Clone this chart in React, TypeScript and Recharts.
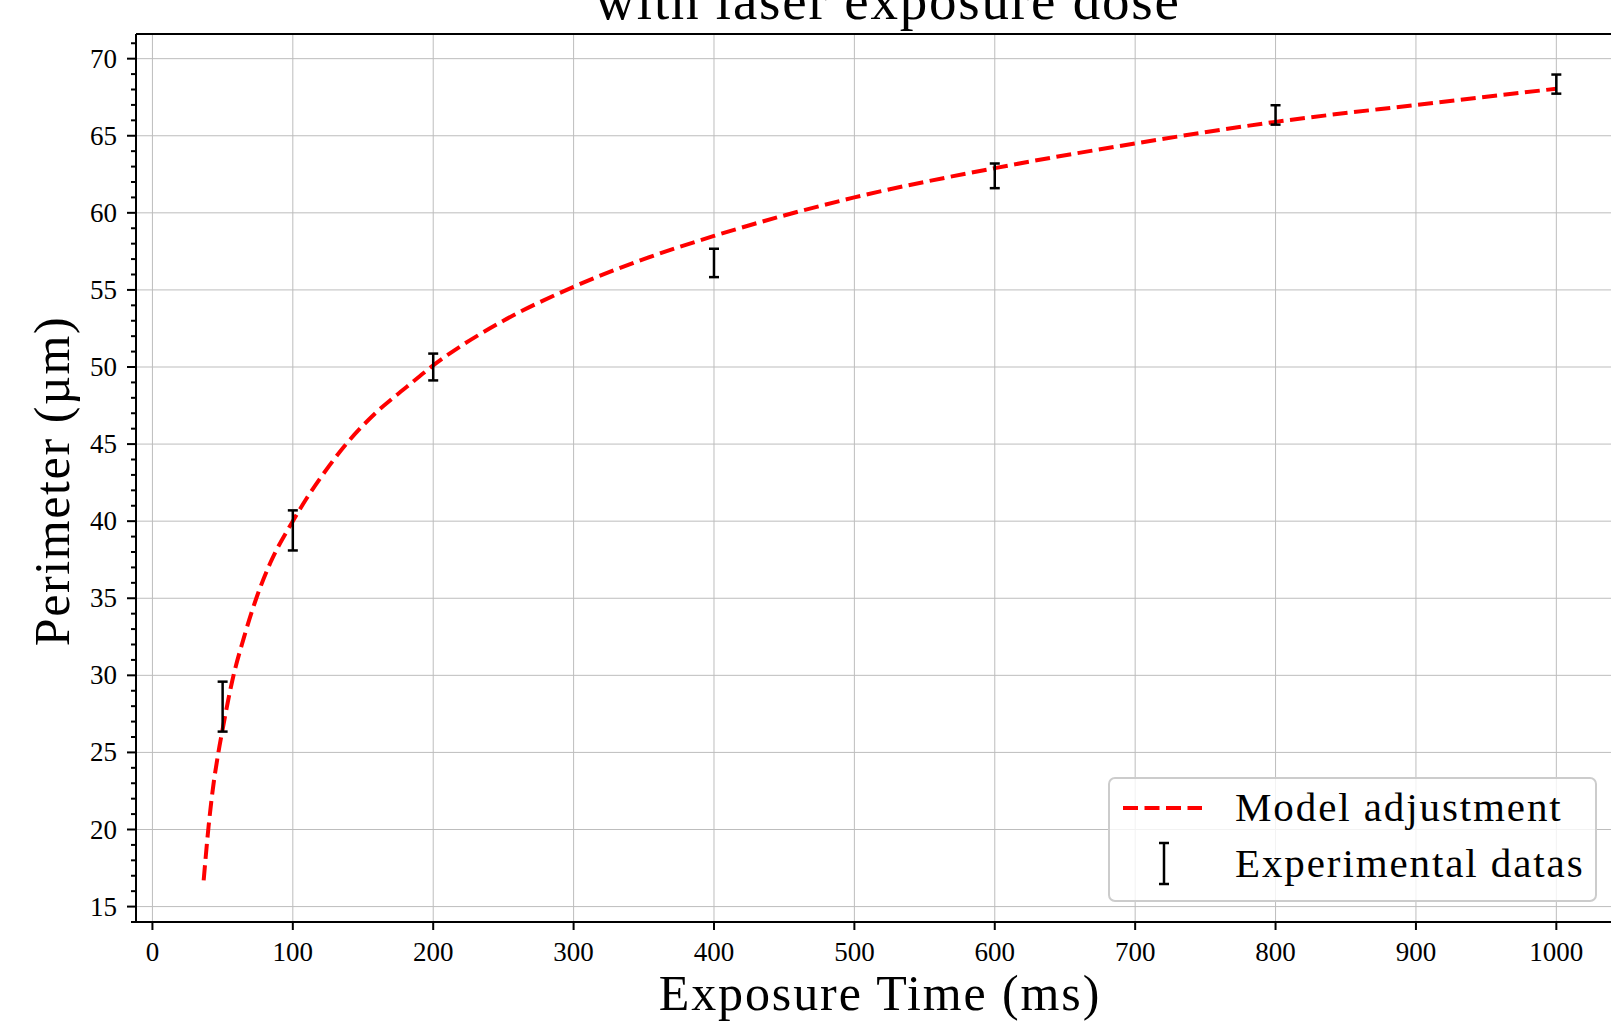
import React from 'react';
import {
  ComposedChart,
  Line,
  Scatter,
  ErrorBar,
  XAxis,
  YAxis,
  CartesianGrid,
  Legend,
  ReferenceLine,
} from 'recharts';

// Model curve (exposure time in ms -> perimeter in µm)
const modelTime = [36.5, 40, 43, 47, 50, 57, 65, 74, 84, 100, 110, 126, 138, 160, 181, 200, 250, 300, 350, 400, 500, 600, 700, 800, 900, 1000];
const modelPerimeter = [16.7, 20.2, 22.6, 25.0, 26.5, 29.7, 32.4, 35.0, 37.3, 40.0, 41.5, 43.6, 45.0, 47.1, 48.7, 50.1, 53.0, 55.2, 57.0, 58.5, 61.0, 62.9, 64.5, 65.9, 67.0, 68.05];

// Experimental points (only error bars are drawn)
const expTime = [50, 100, 200, 400, 600, 800, 1000];
const expPerimeter = [27.97, 39.4, 50.0, 56.75, 62.4, 66.35, 68.35];
const expError = [1.62, 1.3, 0.87, 0.92, 0.8, 0.63, 0.62];

const xTicks = [0, 100, 200, 300, 400, 500, 600, 700, 800, 900, 1000];
const yMajorTicks = [15, 20, 25, 30, 35, 40, 45, 50, 55, 60, 65, 70];
const yMinorTicks = Array.from({ length: 58 }, (_, i) => 14 + i);

const X_DOMAIN: [number, number] = [-11.7, 1048.2];
const Y_DOMAIN: [number, number] = [14.0, 71.6];

const modelData = modelTime.map((t, i) => ({ t, p: modelPerimeter[i] }));
const expData = expTime.map((t, i) => ({ t, p: expPerimeter[i], err: expError[i] }));

const FONT = "'Liberation Serif', 'DejaVu Serif', serif";
const TICK_SIZE = 9;
const TICK_MARGIN = 10;

const YTick = (props: any) => {
  const { x, y, payload } = props;
  const v = payload.value;
  const major = v % 5 === 0;
  const axisX = x + TICK_SIZE + TICK_MARGIN;
  return (
    <g>
      <line x1={axisX} x2={axisX - (major ? TICK_SIZE : 5)} y1={y} y2={y} stroke="#000" strokeWidth={2} />
      {major && (
        <text x={x} y={y} dy={9} textAnchor="end" fontSize={27} fontFamily={FONT} fill="#000">
          {v}
        </text>
      )}
    </g>
  );
};

const LegendBox = () => (
  <svg width={489} height={125} style={{ display: 'block' }}>
    <rect x={1} y={1} width={487} height={123} rx={6} fill="rgba(255,255,255,0.8)" stroke="#cccccc" strokeWidth={2} />
    <line x1={15} x2={94} y1={31} y2={31} stroke="#ff0000" strokeWidth={4} strokeDasharray="15 6.5" />
    <text x={127} y={44} fontSize={41} letterSpacing={1.9} fontFamily={FONT} fill="#000">
      Model adjustment
    </text>
    <line x1={56} x2={56} y1={66} y2={107} stroke="#000" strokeWidth={2.5} />
    <line x1={51} x2={61} y1={66} y2={66} stroke="#000" strokeWidth={2.5} />
    <line x1={51} x2={61} y1={107} y2={107} stroke="#000" strokeWidth={2.5} />
    <text x={127} y={100} fontSize={41} letterSpacing={1.9} fontFamily={FONT} fill="#000">
      Experimental datas
    </text>
  </svg>
);

export default function App() {
  return (
    <div
      style={{
        position: 'fixed',
        left: 0,
        top: 0,
        width: 1611,
        height: 1028,
        overflow: 'hidden',
        background: '#fff',
      }}
    >
      <ComposedChart width={1640} height={1028} margin={{ top: 34, right: 16, bottom: 0, left: 0 }}>
        <CartesianGrid stroke="#bdbdbd" strokeWidth={1} horizontalValues={yMajorTicks} verticalValues={xTicks} />
        <XAxis
          type="number"
          dataKey="t"
          domain={X_DOMAIN}
          allowDataOverflow
          ticks={xTicks}
          interval={0}
          height={106}
          tickSize={8}
          tickMargin={12}
          axisLine={{ stroke: '#000', strokeWidth: 2 }}
          tickLine={{ stroke: '#000', strokeWidth: 2 }}
          tick={{ fill: '#000', fontSize: 27, fontFamily: FONT }}
          label={(p: any) => {
            const vb = p.viewBox;
            return (
              <text
                x={vb.x + vb.width / 2}
                y={vb.y + 88}
                textAnchor="middle"
                fontSize={50}
                letterSpacing={1.9}
                fontFamily={FONT}
                fill="#000"
              >
                Exposure Time (ms)
              </text>
            );
          }}
        />
        <YAxis
          type="number"
          domain={Y_DOMAIN}
          allowDataOverflow
          ticks={yMinorTicks}
          interval={0}
          width={136}
          tickSize={TICK_SIZE}
          tickMargin={TICK_MARGIN}
          axisLine={{ stroke: '#000', strokeWidth: 2 }}
          tickLine={false}
          tick={<YTick />}
          label={(p: any) => {
            const vb = p.viewBox;
            const cy = vb.y + vb.height / 2 + 3;
            return (
              <text
                x={69}
                y={cy}
                transform={`rotate(-90 69 ${cy})`}
                textAnchor="middle"
                fontSize={50}
                letterSpacing={1.6}
                fontFamily={FONT}
                fill="#000"
              >
                Perimeter (µm)
              </text>
            );
          }}
        />
        <ReferenceLine y={Y_DOMAIN[1]} stroke="#000" strokeWidth={2} ifOverflow="visible" />
        <ReferenceLine x={X_DOMAIN[1]} stroke="#000" strokeWidth={2} ifOverflow="visible" />
        <Line
          data={modelData}
          dataKey="p"
          type="monotone"
          stroke="#ff0000"
          strokeWidth={4}
          strokeDasharray="15 6.5"
          dot={false}
          activeDot={false}
          isAnimationActive={false}
        />
        <Scatter data={expData} dataKey="p" shape={() => <g />} isAnimationActive={false}>
          <ErrorBar dataKey="err" direction="y" width={5} stroke="#000" strokeWidth={2.5} isAnimationActive={false} />
        </Scatter>
        <Legend
          layout="horizontal"
          verticalAlign="middle"
          align="center"
          wrapperStyle={{ left: 1108, top: 777, width: 489, height: 125 }}
          content={() => <LegendBox />}
        />
        <text x={888} y={19} textAnchor="middle" fontSize={55} letterSpacing={1.8} fontFamily={FONT} fill="#000">
          with laser exposure dose
        </text>
      </ComposedChart>
    </div>
  );
}
